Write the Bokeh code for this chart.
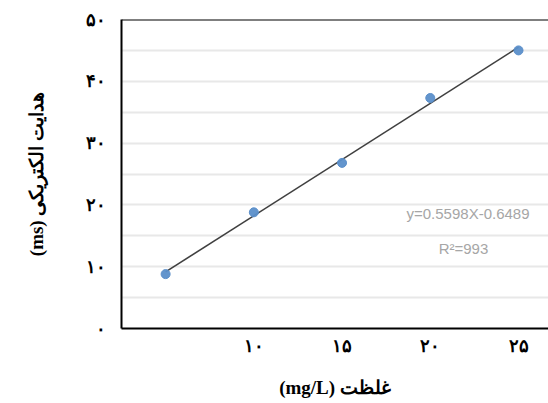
import numpy as np
from bokeh.plotting import figure
from bokeh.models import FixedTicker, Label, Span, Range1d
from bokeh.embed import file_html
from bokeh.resources import INLINE

# ---- data ----
concentration = [5, 10, 15, 20, 25]
conductivity = [8.8, 18.8, 26.8, 37.3, 45.0]

x_ticks = [10, 15, 20, 25]
x_tick_labels = ["۱۰", "۱۵", "۲۰", "۲۵"]
y_ticks = [0, 10, 20, 30, 40, 50]
y_tick_labels = ["۰", "۱۰", "۲۰", "۳۰", "۴۰", "۵۰"]
grid_values = [5, 10, 15, 20, 25, 30, 35, 40, 45]

equation_text = "y=0.5598X-0.6489"
r2_text = "R²=993"
# written in visual order (LTR canvas) so it displays as in the reference
x_title = "(mg/L) غلظت"
y_title = "(ms) هدایت الکتریکی"

# ---- trend line from least squares fit ----
slope, intercept = np.polyfit(concentration, conductivity, 1)
trend_x = [min(concentration), max(concentration)]
trend_y = [slope * v + intercept for v in trend_x]

p = figure(width=548, height=403, output_backend="svg", toolbar_location=None,
           x_range=Range1d(2.5, 26.7), y_range=Range1d(0, 50),
           min_border_left=121, min_border_right=0, min_border_top=19,
           min_border_bottom=75)
p.background_fill_color = "white"
p.border_fill_color = "white"
p.outline_line_color = None

serif = "Liberation Serif"

# grid
p.xgrid.grid_line_color = None
p.ygrid.ticker = FixedTicker(ticks=grid_values)
p.ygrid.grid_line_color = "#e8e8e8"
p.ygrid.grid_line_width = 2

# axes
for ax in (p.xaxis[0], p.yaxis[0]):
    ax.axis_line_color = "black"
    ax.axis_line_width = 2
    ax.major_tick_line_color = None
    ax.minor_tick_line_color = None
    ax.major_label_text_font = serif
    ax.major_label_text_font_style = "bold"
    ax.major_label_text_font_size = "18px"
    ax.major_label_text_color = "black"
    ax.axis_label_text_font = serif
    ax.axis_label_text_font_style = "bold"
    ax.axis_label_text_font_size = "19px"
    ax.axis_label_text_color = "black"

p.xaxis.ticker = FixedTicker(ticks=x_ticks)
p.xaxis.major_label_overrides = dict(zip(x_ticks, x_tick_labels))
p.xaxis.major_label_standoff = 1
p.xaxis.axis_label = x_title
p.xaxis.axis_label_standoff = 18

p.yaxis.ticker = FixedTicker(ticks=y_ticks)
p.yaxis.major_label_overrides = dict(zip(y_ticks, y_tick_labels))
p.yaxis.major_label_standoff = 10
p.yaxis.axis_label = y_title
p.yaxis.axis_label_standoff = 36

# top border of the plot area
p.add_layout(Span(location=50, dimension="width", line_color="black", line_width=2))

# trend line and points
p.line(trend_x, trend_y, line_color="#404040", line_width=1.6)
p.scatter(concentration, conductivity, size=9, fill_color="#5b8fca",
          line_color="#5b8fca", fill_alpha=0.95)

# equation annotation (screen units are relative to the plot frame)
p.add_layout(Label(x=285, y=115, x_units="screen", y_units="screen",
                   text=equation_text, text_font="Liberation Sans",
                   text_font_size="15px", text_color="#a6a6a6",
                   text_align="left", text_baseline="middle"))
p.add_layout(Label(x=342, y=80, x_units="screen", y_units="screen",
                   text=r2_text, text_font="Liberation Sans",
                   text_font_size="15px", text_color="#a6a6a6",
                   text_align="center", text_baseline="middle"))

open("out.html", "w").write(file_html(p, INLINE))
